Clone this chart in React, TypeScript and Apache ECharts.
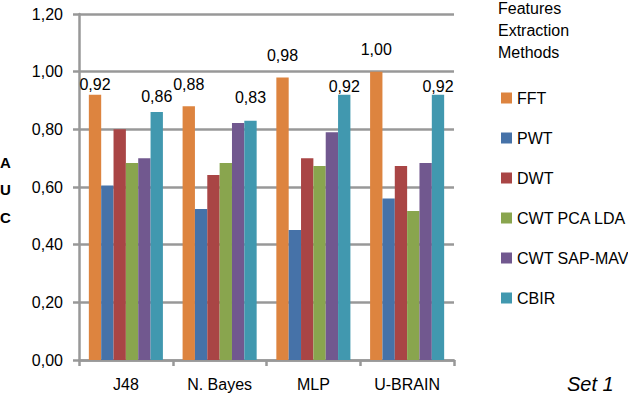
import React, { useEffect, useRef } from "react";
import * as echarts from "echarts";

const categories = ["J48", "N. Bayes", "MLP", "U-BRAIN"];
const seriesNames = ["FFT", "PWT", "DWT", "CWT PCA LDA", "CWT SAP-MAV", "CBIR"];
const fft = [0.92, 0.88, 0.98, 1.0];
const pwt = [0.605, 0.524, 0.451, 0.56];
const dwt = [0.8, 0.642, 0.7, 0.673];
const cwtPcaLda = [0.683, 0.683, 0.673, 0.517];
const cwtSapMav = [0.7, 0.822, 0.79, 0.683];
const cbir = [0.86, 0.83, 0.92, 0.92];
const yTicks = { min: 0, max: 1.2, interval: 0.2 };

const colors = ["#DD843F", "#4672A8", "#A94545", "#89A54E", "#71588F", "#4198AF"];
const labelledSeries: Record<string, number[]> = {
  FFT: [2, 14, 14, 14],
  CBIR: [8, 15, 0, 0],
};

const FONT = "Liberation Sans";
const fmt = (v: number) => v.toFixed(2).replace(".", ",");

export default function App() {
  const ref = useRef<HTMLDivElement>(null);
  useEffect(() => {
    if (!ref.current) return;
    const chart = echarts.init(ref.current, undefined, { renderer: "svg" });
    const allValues = [fft, pwt, dwt, cwtPcaLda, cwtSapMav, cbir];
    const series = seriesNames.map((name, i) => {
      const dists = labelledSeries[name];
      return {
        name,
        type: "bar",
        barGap: "0%",
        barCategoryGap: "21%",
        itemStyle: { color: colors[i] },
        data: allValues[i].map((v, j) =>
          dists
            ? {
                value: v,
                label: {
                  show: true,
                  position: "top",
                  distance: dists[j],
                  formatter: (p: any) => fmt(p.value),
                  color: "#000",
                  fontFamily: FONT,
                  fontSize: 16,
                },
              }
            : v
        ),
      };
    });
    chart.setOption({
      animation: false,
      grid: { left: 79, right: 174, top: 14, bottom: 34, containLabel: false },
      legend: {
        orient: "vertical",
        left: 496,
        top: 85,
        itemWidth: 11,
        itemHeight: 11,
        itemGap: 24,
        icon: "rect",
        data: seriesNames,
        textStyle: { fontFamily: FONT, fontSize: 16, color: "#000", lineHeight: 16 },
      },
      xAxis: {
        type: "category",
        data: categories,
        axisLine: { lineStyle: { color: "#989898", width: 2.5 } },
        axisTick: { show: true, length: 6, lineStyle: { color: "#989898", width: 2.5 } },
        axisLabel: { fontFamily: FONT, fontSize: 16, color: "#000", margin: 16 },
      },
      yAxis: {
        type: "value",
        min: yTicks.min,
        max: yTicks.max,
        interval: yTicks.interval,
        axisLine: { show: true, lineStyle: { color: "#989898", width: 2.5 } },
        axisTick: { show: true, length: 6, lineStyle: { color: "#989898", width: 2.5 } },
        splitLine: { lineStyle: { color: "#989898", width: 2.5 } },
        axisLabel: { fontFamily: FONT, fontSize: 16, color: "#000", margin: 16, formatter: fmt },
      },
      graphic: [
        { type: "text", left: 498, top: 0, style: { text: "Features", font: `16px "${FONT}"`, fill: "#000" } },
        { type: "text", left: 498, top: 22, style: { text: "Extraction", font: `16px "${FONT}"`, fill: "#000" } },
        { type: "text", left: 498, top: 44, style: { text: "Methods", font: `16px "${FONT}"`, fill: "#000" } },
        { type: "text", left: 0, top: 155, style: { text: "A", font: `bold 15px "${FONT}"`, fill: "#000" } },
        { type: "text", left: 0, top: 182, style: { text: "U", font: `bold 15px "${FONT}"`, fill: "#000" } },
        { type: "text", left: 0, top: 210, style: { text: "C", font: `bold 15px "${FONT}"`, fill: "#000" } },
        { type: "text", left: 567, top: 374, style: { text: "Set 1", font: `italic 20px "${FONT}"`, fill: "#000" } },
      ],
      series,
    });
    return () => chart.dispose();
  }, []);
  return (
    <div
      ref={ref}
      style={{ position: "fixed", left: 0, top: 0, width: 628, height: 394, background: "#fff" }}
    />
  );
}
